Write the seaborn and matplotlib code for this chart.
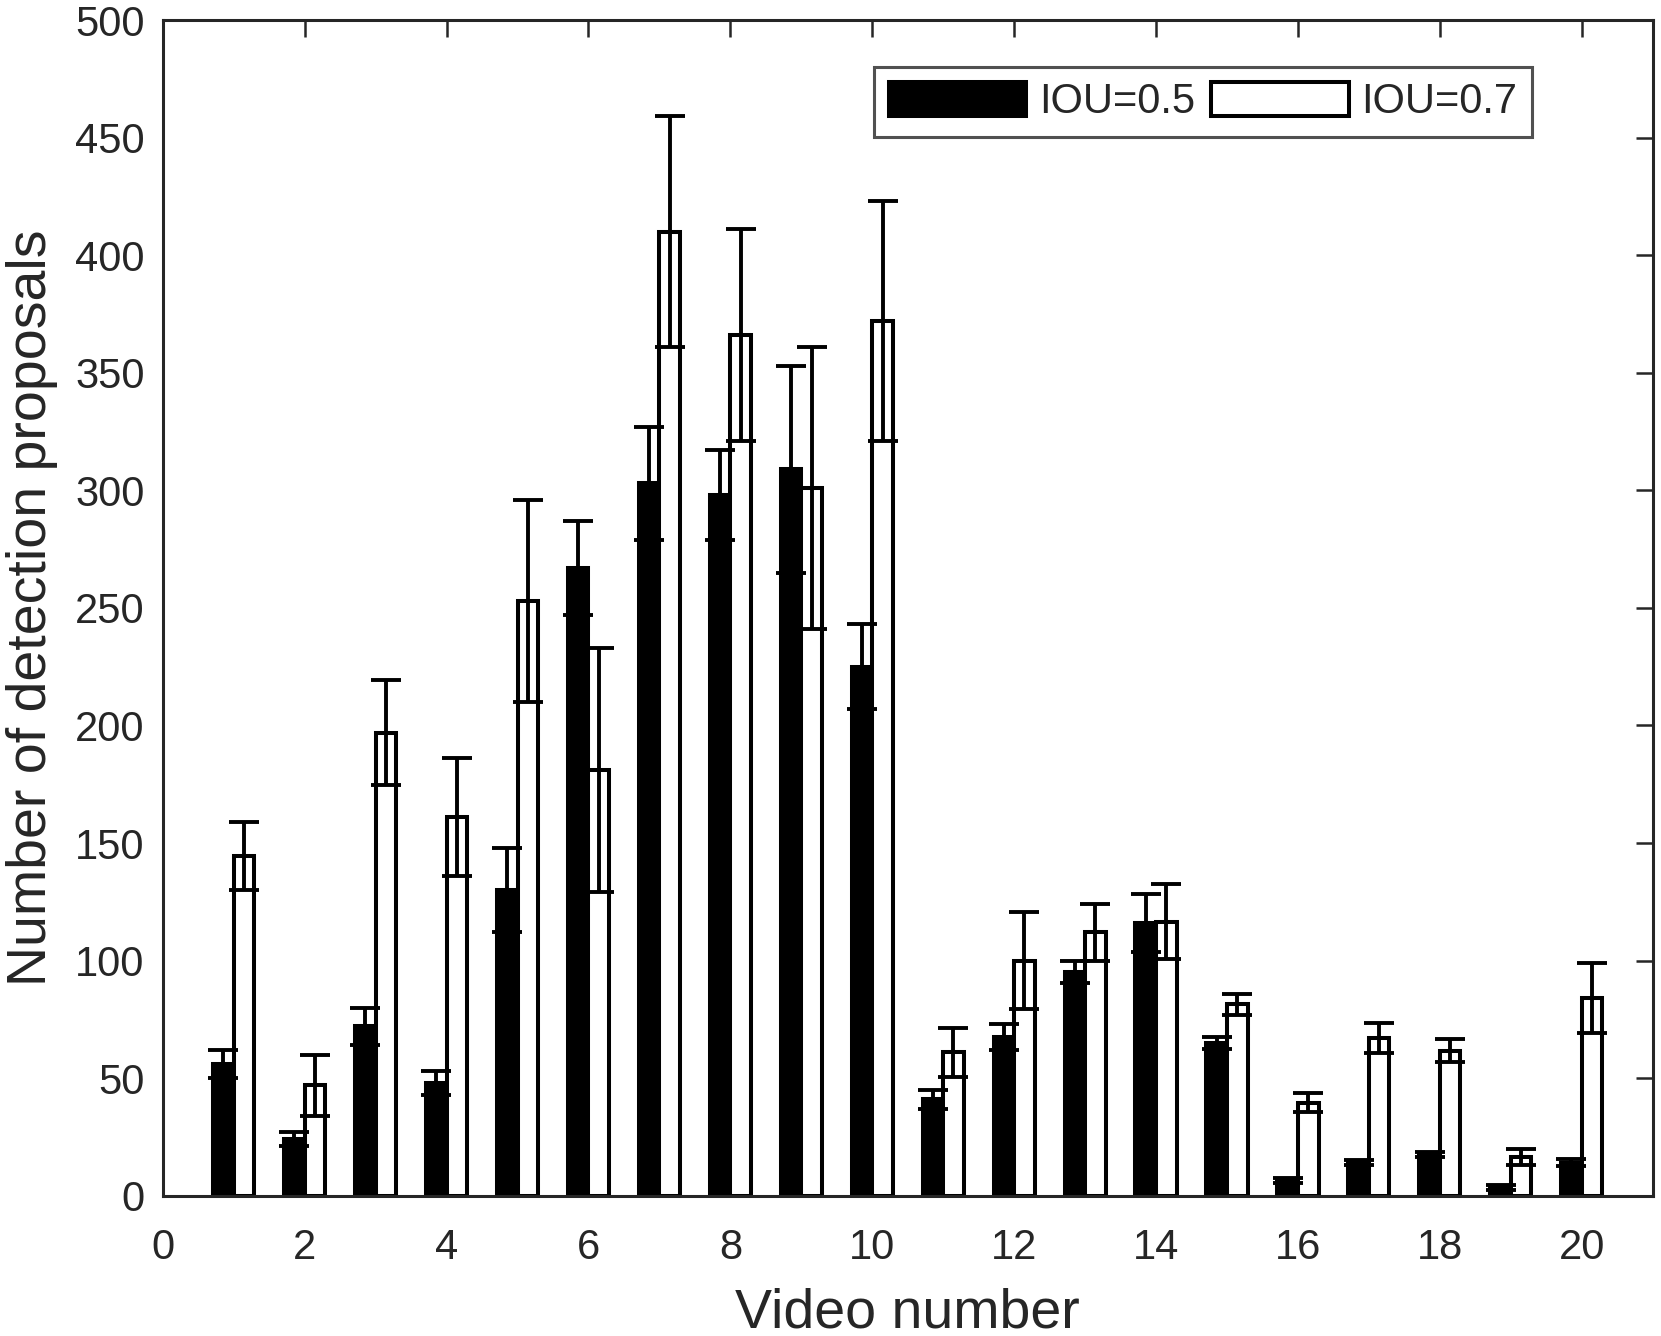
import numpy as np
import pandas as pd
import matplotlib
matplotlib.use('Agg')
import matplotlib.pyplot as plt
import seaborn as sns

# values
videos = list(range(1, 21))
iou05_mean = [56, 24, 72, 48, 130, 267, 303, 298, 309, 225, 41, 67.5, 95, 116, 65, 6.5, 14, 17.5, 3.5, 14]
iou05_err = [6, 3, 8, 5, 18, 20, 24, 19, 44, 18, 4, 5.5, 4.7, 12.5, 2.5, 1, 1, 1, 1, 1.5]
iou07_mean = [144.5, 47, 197, 161, 253, 181, 410, 366, 301, 372, 61, 100, 112, 116.5, 81.5, 39.6, 67, 61.7, 16.5, 84]
iou07_err = [14.5, 13, 22.5, 25, 43, 52, 49, 45, 60, 51, 10.5, 20.5, 12, 16, 4.5, 4, 6.5, 5, 3.3, 15]
series = ['IOU=0.5', 'IOU=0.7']

df = pd.DataFrame({
    'video': videos * 2,
    'count': iou05_mean + iou07_mean,
    'iou': [series[0]] * 20 + [series[1]] * 20,
})

sns.set_style('white')
plt.rcParams['font.family'] = ['Liberation Sans', 'DejaVu Sans']

fig = plt.figure(figsize=(16.61, 13.36), dpi=100)
ax = fig.add_axes([0.098, 0.105, 0.897, 0.880])

sns.barplot(data=df, x='video', y='count', hue='iou', native_scale=True,
            palette={series[0]: 'black', series[1]: 'white'},
            width=0.58, edgecolor='black', linewidth=2.9,
            errorbar=None, ax=ax, zorder=2)

# error bars on top of each bar
off = 0.145
x = np.array(videos, dtype=float)
ax.errorbar(x - off, iou05_mean, yerr=iou05_err, fmt='none', ecolor='black',
            elinewidth=2.8, capsize=11, capthick=2.8, zorder=3)
ax.errorbar(x + off, iou07_mean, yerr=iou07_err, fmt='none', ecolor='black',
            elinewidth=2.8, capsize=11, capthick=2.8, zorder=3)

ax.set_xlim(0, 21)
ax.set_ylim(0, 500)
ax.set_xticks(range(0, 21, 2))
ax.set_xticklabels([str(t) for t in range(0, 21, 2)])
ax.set_yticks(range(0, 501, 50))
ax.set_yticklabels([str(t) for t in range(0, 501, 50)])

ax.tick_params(axis='both', direction='in', length=12, width=1.8, color='#262626',
               labelsize=30, labelcolor='#262626', top=True, right=True)
ax.tick_params(axis='x', pad=23)
ax.tick_params(axis='y', pad=13)
for s in ax.spines.values():
    s.set_visible(True)
    s.set_color('#262626')
    s.set_linewidth(2.2)

ax.set_xlabel('Video number', fontsize=40, color='#262626', labelpad=14)
ax.set_ylabel('Number of detection proposals', fontsize=40, color='#262626', labelpad=12)

handles, labels = ax.get_legend_handles_labels()
leg = ax.legend(handles, labels, ncol=2, loc='upper right', bbox_to_anchor=(0.919, 0.960),
                borderaxespad=0, fontsize=30, frameon=True, fancybox=False,
                handlelength=3.3, handleheight=0.9, handletextpad=0.3,
                columnspacing=0.4, borderpad=0.35)
leg.get_frame().set_edgecolor('#262626')
leg.get_frame().set_linewidth(2.2)

fig.savefig('out.png', dpi=100)
